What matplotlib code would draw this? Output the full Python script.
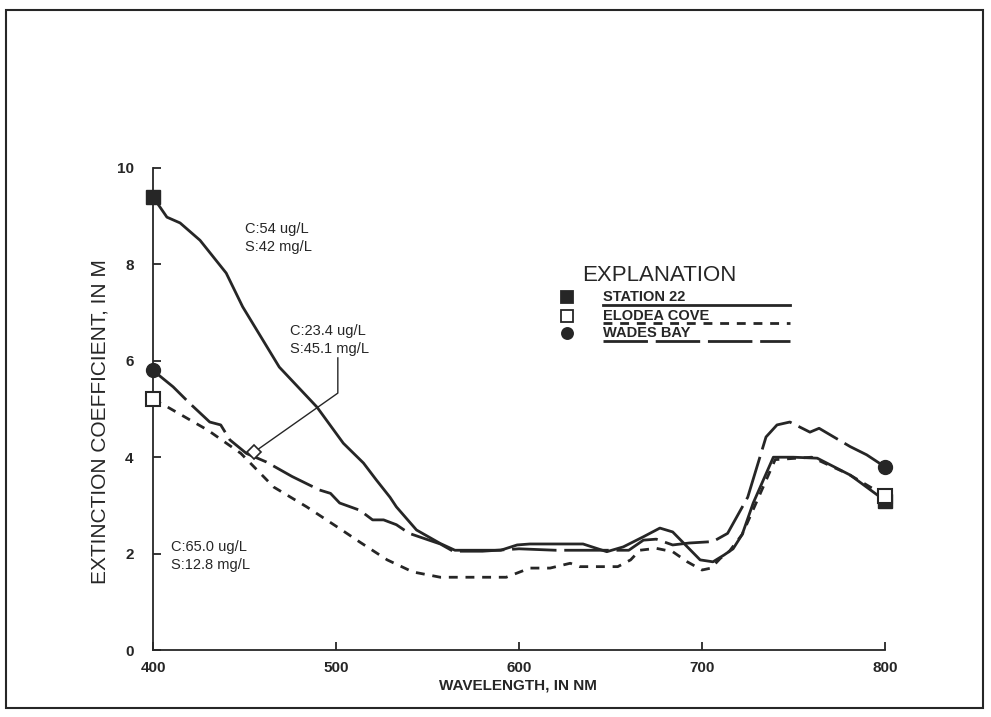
import matplotlib.pyplot as plt
from matplotlib.patches import Rectangle

plt.rcParams['font.family'] = ['Liberation Sans', 'DejaVu Sans']

INK = '#262626'

# Station 22 (solid)
st22_wl = [400, 407.6, 414.8, 425.7, 440, 449, 469, 489.6, 504, 515, 522, 529.5, 533, 544, 557,
           565, 590, 599, 606, 635, 648, 657, 668, 677, 684, 692, 699, 706, 712, 717, 722,
           728, 739, 750, 763, 781, 800]
st22_k = [9.4, 8.98, 8.86, 8.5, 7.82, 7.12, 5.87, 5.04, 4.29, 3.88, 3.53, 3.17, 2.97, 2.49, 2.21,
          2.07, 2.07, 2.18, 2.2, 2.2, 2.04, 2.14, 2.35, 2.53, 2.45, 2.14, 1.87, 1.83, 1.97, 2.1, 2.4,
          3.05, 4.0, 4.0, 3.98, 3.63, 3.1]

# Elodea Cove (short dash)
elodea_wl = [400, 408, 430, 448, 466, 484, 502, 513, 528, 542, 557, 593, 606, 617, 628, 633, 654,
             661, 666, 675, 684, 692, 700, 705, 710, 715, 722, 729, 740, 760, 780, 800]
elodea_k = [5.2, 5.04, 4.56, 4.08, 3.38, 2.97, 2.52, 2.24, 1.87, 1.62, 1.51, 1.51, 1.7, 1.7, 1.8,
            1.73, 1.73, 1.87, 2.07, 2.11, 2.04, 1.83, 1.66, 1.7, 1.9, 2.05, 2.4, 3.0, 3.95, 4.0,
            3.65, 3.2]

# Wades Bay (long dash)
wades_wl = [400, 411, 420, 431, 437, 442, 451, 462, 476, 491, 497, 502, 513, 520, 526, 533, 540,
            557, 564, 580, 600, 620, 651, 660, 668, 675, 684, 693, 706, 714, 725, 735, 741, 748,
            759, 764, 781, 790, 800]
wades_k = [5.8, 5.46, 5.12, 4.73, 4.67, 4.36, 4.08, 3.9, 3.6, 3.32, 3.25, 3.05, 2.9, 2.7, 2.7,
           2.6, 2.42, 2.2, 2.05, 2.05, 2.1, 2.07, 2.07, 2.07, 2.28, 2.3, 2.18, 2.22, 2.25, 2.42,
           3.17, 4.42, 4.67, 4.73, 4.52, 4.6, 4.22, 4.05, 3.8]

names = ['STATION 22', 'ELODEA COVE', 'WADES BAY']
x_ticks = [400, 500, 600, 700, 800]
y_ticks = [0, 2, 4, 6, 8, 10]

notes = ['C:54 ug/L\nS:42 mg/L', 'C:23.4 ug/L\nS:45.1 mg/L', 'C:65.0 ug/L\nS:12.8 mg/L']
note_x = [450, 475, 410]
note_y = [8.55, 6.43, 1.95]

solid = '-'
short_dash = (0, (3.2, 2.8))
long_dash = (0, (16, 2.8))

fig = plt.figure(figsize=(9.91, 7.17), dpi=100)
ax = fig.add_axes([0.1544, 0.0934, 0.7386, 0.6723])

ax.plot(st22_wl, st22_k, color=INK, lw=2.0, ls=solid)
ax.plot(elodea_wl, elodea_k, color=INK, lw=2.0, ls=short_dash)
ax.plot(wades_wl, wades_k, color=INK, lw=2.0, ls=long_dash)

# end markers
ax.plot([st22_wl[0], st22_wl[-1]], [st22_k[0], st22_k[-1]], 's', ms=10.5, color=INK, clip_on=False, zorder=5)
ax.plot([elodea_wl[0], elodea_wl[-1]], [elodea_k[0], elodea_k[-1]], 's', ms=9.5, mfc='white',
        mec=INK, mew=1.5, clip_on=False, zorder=6)
ax.plot([wades_wl[0], wades_wl[-1]], [wades_k[0], wades_k[-1]], 'o', ms=10, color=INK, clip_on=False, zorder=5)

ax.set_xlim(400, 800)
ax.set_ylim(0, 10)
ax.set_xticks(x_ticks)
ax.set_yticks(y_ticks)
for s in ['top', 'right']:
    ax.spines[s].set_visible(False)
for s in ['left', 'bottom']:
    ax.spines[s].set_linewidth(1.3)
    ax.spines[s].set_color(INK)
ax.tick_params(direction='in', length=6, width=1.3, color=INK, labelsize=11, labelcolor=INK, pad=14)
ax.tick_params(axis='x', pad=8)
for lbl in ax.get_xticklabels() + ax.get_yticklabels():
    lbl.set_fontweight('bold')

fig.text(100 / 991, 1 - 422 / 717, 'EXTINCTION COEFFICIENT, IN M', rotation=90, ha='center', va='center',
         fontsize=15, color=INK)
fig.text(518 / 991, 1 - 686 / 717, 'WAVELENGTH, IN NM', ha='center', va='center', fontsize=11,
         fontweight='bold', color=INK)

# annotations
for t, x, y in zip(notes, note_x, note_y):
    ax.text(x, y, t, ha='left', va='center', fontsize=10.5, color=INK, linespacing=1.35)
ax.plot([501, 501, 455], [6.06, 5.33, 4.1], color=INK, lw=1.0)
ax.plot([455], [4.1], 'D', ms=7, mfc='white', mec=INK, mew=1.2, zorder=6)

# explanation box
ax.text(0.586, 0.778, 'EXPLANATION', transform=ax.transAxes, ha='left', va='center', fontsize=16,
        color=INK)
row_y = [0.732, 0.693, 0.658]
line_y = [0.716, 0.678, 0.641]
styles = [solid, short_dash, long_dash]
marks = [dict(marker='s', mfc=INK), dict(marker='s', mfc='white'), dict(marker='o', mfc=INK)]
for name, ty, ly, ls, mk in zip(names, row_y, line_y, styles, marks):
    ax.plot([0.566], [ty], transform=ax.transAxes, ms=8, mec=INK, mew=1.3, ls='none', clip_on=False, **mk)
    ax.text(0.615, ty, name, transform=ax.transAxes, ha='left', va='center', fontsize=10.5,
            fontweight='bold', color=INK)
    ax.plot([0.615, 0.870], [ly, ly], transform=ax.transAxes, color=INK, lw=2.0, ls=ls, clip_on=False)

fig.patches.append(Rectangle((6 / 991, 1 - 708 / 717), 977 / 991, 698 / 717, transform=fig.transFigure,
                             fill=False, ec=INK, lw=1.5))

fig.savefig('out.png', dpi=100)
